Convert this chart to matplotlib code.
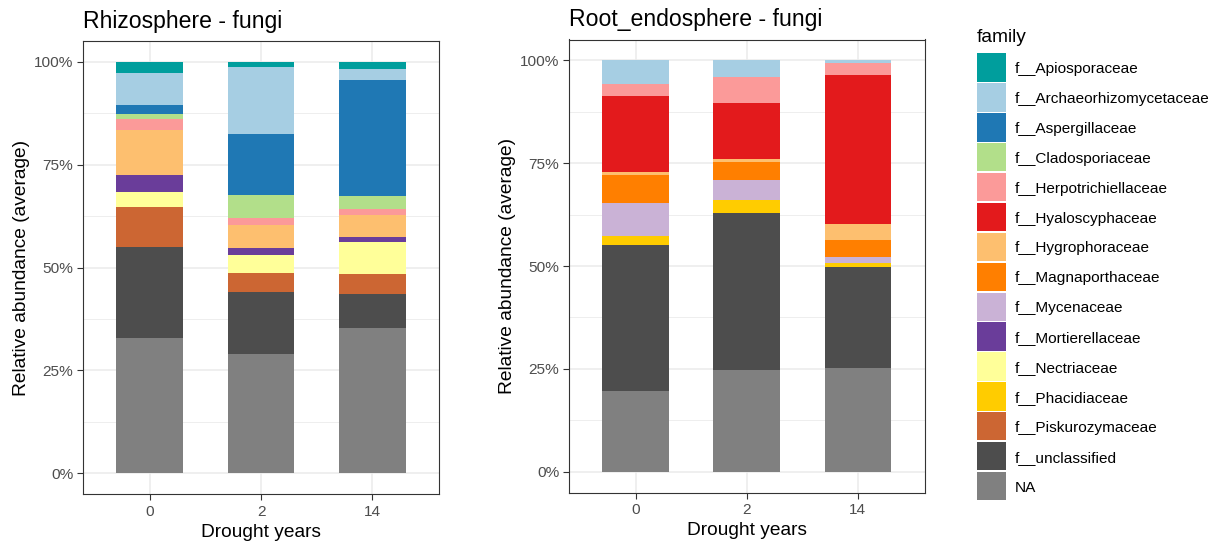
import matplotlib
matplotlib.use("Agg")
import matplotlib.pyplot as plt
from matplotlib.patches import Rectangle
from matplotlib.ticker import FixedLocator, FuncFormatter

plt.rcParams["font.family"] = ["Liberation Sans", "DejaVu Sans"]

# ---- data -------------------------------------------------------------
drought_years = ["0", "2", "14"]

families = [
    "f__Apiosporaceae", "f__Archaeorhizomycetaceae", "f__Aspergillaceae",
    "f__Cladosporiaceae", "f__Herpotrichiellaceae", "f__Hyaloscyphaceae",
    "f__Hygrophoraceae", "f__Magnaporthaceae", "f__Mycenaceae",
    "f__Mortierellaceae", "f__Nectriaceae", "f__Phacidiaceae",
    "f__Piskurozymaceae", "f__unclassified", "NA",
]

family_colors = [
    "#009E9D", "#A6CEE3", "#1F78B4", "#B2DF8A", "#FB9A99", "#E31A1C",
    "#FDBF6F", "#FF7F00", "#CAB2D6", "#6A3D9A", "#FFFF99", "#FFCC00",
    "#CC6633", "#4D4D4D", "#808080",
]

# relative abundance (%) per family, for drought years 0 / 2 / 14
rhizosphere = {
    "f__Apiosporaceae":          [2.7, 1.2, 1.9],
    "f__Archaeorhizomycetaceae": [7.8, 16.5, 2.5],
    "f__Aspergillaceae":         [2.2, 14.8, 28.3],
    "f__Cladosporiaceae":        [1.3, 5.5, 3.2],
    "f__Herpotrichiellaceae":    [2.5, 1.7, 1.3],
    "f__Hyaloscyphaceae":        [0.0, 0.0, 0.0],
    "f__Hygrophoraceae":         [11.0, 5.6, 5.5],
    "f__Magnaporthaceae":        [0.0, 0.0, 0.0],
    "f__Mycenaceae":             [0.0, 0.0, 0.0],
    "f__Mortierellaceae":        [4.1, 1.6, 1.0],
    "f__Nectriaceae":            [3.7, 4.5, 7.8],
    "f__Phacidiaceae":           [0.0, 0.0, 0.0],
    "f__Piskurozymaceae":        [9.7, 4.6, 4.9],
    "f__unclassified":           [22.0, 14.9, 8.4],
    "NA":                        [33.0, 29.1, 35.2],
}

root_endosphere = {
    "f__Apiosporaceae":          [0.0, 0.0, 0.0],
    "f__Archaeorhizomycetaceae": [5.9, 4.2, 0.8],
    "f__Aspergillaceae":         [0.0, 0.0, 0.0],
    "f__Cladosporiaceae":        [0.0, 0.0, 0.0],
    "f__Herpotrichiellaceae":    [2.8, 6.1, 2.7],
    "f__Hyaloscyphaceae":        [18.4, 13.8, 36.2],
    "f__Hygrophoraceae":         [0.8, 0.6, 4.1],
    "f__Magnaporthaceae":        [6.9, 4.5, 4.1],
    "f__Mycenaceae":             [8.0, 4.8, 1.3],
    "f__Mortierellaceae":        [0.0, 0.0, 0.0],
    "f__Nectriaceae":            [0.0, 0.0, 0.0],
    "f__Phacidiaceae":           [2.2, 3.2, 1.1],
    "f__Piskurozymaceae":        [0.0, 0.0, 0.0],
    "f__unclassified":           [35.3, 38.0, 24.4],
    "NA":                        [19.7, 24.8, 25.3],
}

# ---- styling ----------------------------------------------------------
BASE = 13.8
GRID = "#EBEBEB"
DARK = "#333333"
TICK_TXT = "#4D4D4D"

W, H = 1222, 544
fig = plt.figure(figsize=(W / 100, H / 100), dpi=100)


def px_axes(x0, y0, x1, y1):
    return fig.add_axes([x0 / W, 1 - y1 / H, (x1 - x0) / W, (y1 - y0) / H])


def stacked_panel(ax, data, title):
    x = list(range(1, len(drought_years) + 1))
    bottom = [0.0] * len(x)
    # first family sits on top, so stack from the last one upward
    for fam, col in reversed(list(zip(families, family_colors))):
        vals = [v / 100 for v in data[fam]]
        ax.bar(x, vals, bottom=bottom, width=0.6, color=col,
               linewidth=0, zorder=3)
        bottom = [b + v for b, v in zip(bottom, vals)]

    ax.set_xlim(0.4, len(x) + 0.6)
    ax.set_ylim(-0.05, 1.05)
    ax.set_xticks(x)
    ax.set_xticklabels(drought_years)
    ax.yaxis.set_major_locator(FixedLocator([0, 0.25, 0.5, 0.75, 1.0]))
    ax.yaxis.set_minor_locator(FixedLocator([0.125, 0.375, 0.625, 0.875]))
    ax.yaxis.set_major_formatter(FuncFormatter(lambda v, p: f"{v * 100:.0f}%"))

    ax.grid(which="major", color=GRID, linewidth=1.1, zorder=0)
    ax.grid(which="minor", axis="y", color=GRID, linewidth=0.6, zorder=0)
    ax.set_axisbelow(True)
    for s in ax.spines.values():
        s.set_color(DARK)
        s.set_linewidth(0.8)
    ax.tick_params(which="major", length=4.5, width=0.8, color=DARK,
                   labelsize=BASE * 0.8, labelcolor=TICK_TXT, pad=2.4)
    ax.tick_params(axis="x", which="major", pad=3.4)
    ax.tick_params(which="minor", length=0)

    ax.set_xlabel("Drought years", fontsize=BASE, color="black", labelpad=3.5)
    ax.set_ylabel("Relative abundance (average)", fontsize=BASE,
                  color="black", labelpad=3)
    ax.set_title(title, loc="left", fontsize=BASE * 1.2, pad=9.5)


ax1 = px_axes(83, 41, 439, 494)
stacked_panel(ax1, rhizosphere, "Rhizosphere - fungi")

ax2 = px_axes(569, 39.5, 924.5, 492.5)
stacked_panel(ax2, root_endosphere, "Root_endosphere - fungi")

# ---- legend: one filled key per family, ggplot style ----------------
KEY_X, KEY_W, KEY_H = 976.5, 29, 28.4
KEY_TOP, KEY_STEP = 53.3, 29.9
fig.text(KEY_X / W, 1 - 37 / H, "family", fontsize=BASE,
         ha="left", va="center", color="black")
for i, (fam, col) in enumerate(zip(families, family_colors)):
    top = KEY_TOP + i * KEY_STEP
    fig.patches.append(Rectangle(
        (KEY_X / W, 1 - (top + KEY_H) / H), KEY_W / W, KEY_H / H,
        transform=fig.transFigure, facecolor=col, edgecolor="none"))
    fig.text(1015 / W, 1 - (top + KEY_H / 2) / H, fam,
             fontsize=BASE * 0.8, ha="left", va="center_baseline",
             color="black")

fig.savefig("out.png", dpi=100)
